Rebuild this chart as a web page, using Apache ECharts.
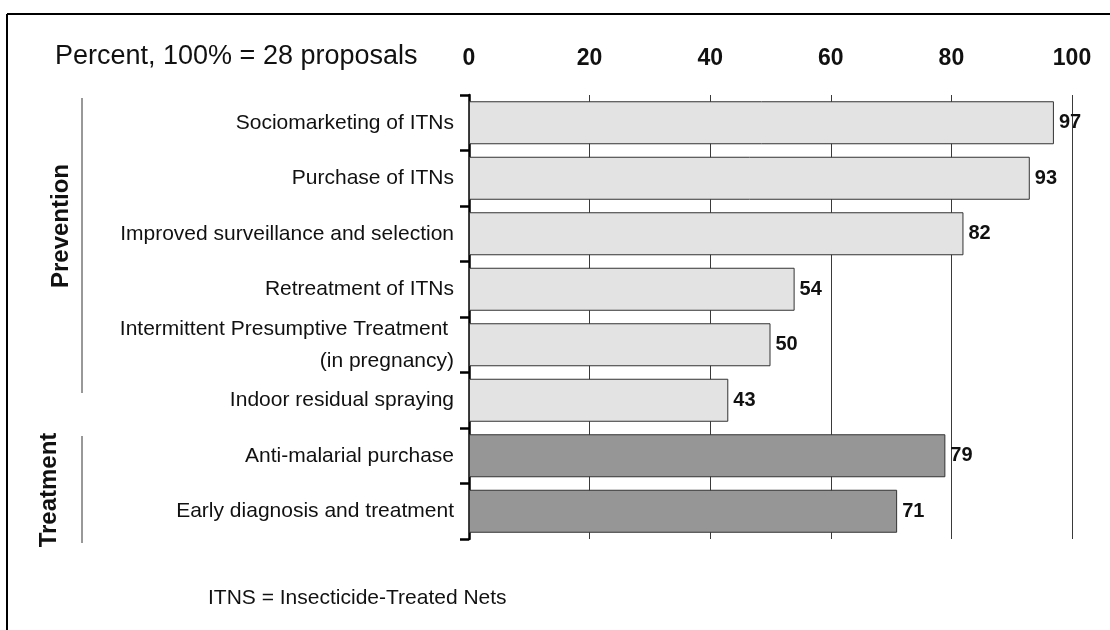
<!DOCTYPE html>
<html>
<head>
<meta charset="utf-8">
<script src="https://cdn.jsdelivr.net/npm/echarts@6/dist/echarts.min.js"></script>
<style>
  html, body { margin: 0; padding: 0; background: #ffffff; }
  #chart { width: 1110px; height: 630px; }
</style>
</head>
<body>
<div id="chart"></div>
<script>
const categories = [
  'Sociomarketing of ITNs',
  'Purchase of ITNs',
  'Improved surveillance and selection',
  'Retreatment of ITNs',
  'Intermittent Presumptive Treatment \n(in pregnancy)',
  'Indoor residual spraying',
  'Anti-malarial purchase',
  'Early diagnosis and treatment'
];
const values = [97, 93, 82, 54, 50, 43, 79, 71];
const groups = ['Prevention', 'Prevention', 'Prevention', 'Prevention', 'Prevention', 'Prevention', 'Treatment', 'Treatment'];
const xTicks = [0, 20, 40, 60, 80, 100];
const titleText = 'Percent, 100% = 28 proposals';
const footnoteText = 'ITNS = Insecticide-Treated Nets';

const groupColors = { Prevention: '#e3e3e3', Treatment: '#969696' };
const FONT = '"Liberation Sans", Arial, Helvetica, sans-serif';

const chart = echarts.init(document.getElementById('chart'), null, { renderer: 'canvas' });

const option = {
  backgroundColor: '#ffffff',
  animation: false,
  textStyle: { fontFamily: FONT },
  grid: { left: 469, right: 38, top: 95, bottom: 91, containLabel: false },
  xAxis: {
    type: 'value',
    position: 'top',
    min: xTicks[0],
    max: xTicks[xTicks.length - 1],
    interval: xTicks[1] - xTicks[0],
    axisLine: { show: false },
    axisTick: { show: false },
    splitLine: { show: true, lineStyle: { color: '#3a3a3a', width: 1 } },
    axisLabel: {
      margin: 25,
      fontFamily: FONT,
      fontSize: 23,
      fontWeight: 'bold',
      color: '#111111'
    }
  },
  yAxis: {
    type: 'category',
    inverse: true,
    data: categories,
    axisLine: { show: true, lineStyle: { color: '#000000', width: 2.5 } },
    axisTick: { show: true, length: 9, lineStyle: { color: '#000000', width: 2.5 } },
    splitLine: { show: false },
    axisLabel: {
      margin: 15,
      fontFamily: FONT,
      fontSize: 21,
      lineHeight: 32,
      color: '#111111',
      align: 'right'
    }
  },
  series: [{
    type: 'bar',
    barWidth: 43,
    data: values.map((v, i) => ({
      value: v,
      itemStyle: {
        color: groupColors[groups[i]],
        borderColor: '#333333',
        borderWidth: 1
      }
    })),
    label: {
      show: true,
      position: 'right',
      distance: 5,
      fontFamily: FONT,
      fontSize: 20,
      fontWeight: 'bold',
      color: '#111111'
    }
  }],
  graphic: [
    { type: 'line', shape: { x1: 7, y1: 14, x2: 1110, y2: 14 }, style: { stroke: '#000', lineWidth: 2 } },
    { type: 'line', shape: { x1: 7, y1: 14, x2: 7, y2: 630 }, style: { stroke: '#000', lineWidth: 2 } },
    {
      type: 'text', x: 55, y: 57,
      style: { text: titleText, font: '27px ' + FONT, fill: '#111', textAlign: 'left', textVerticalAlign: 'middle' }
    },
    {
      type: 'text', x: 61, y: 226, rotation: Math.PI / 2,
      style: { text: 'Prevention', font: 'bold 24px ' + FONT, fill: '#111', textAlign: 'center', textVerticalAlign: 'middle' }
    },
    { type: 'line', shape: { x1: 82, y1: 98, x2: 82, y2: 393 }, style: { stroke: '#333', lineWidth: 1 } },
    {
      type: 'text', x: 49, y: 490, rotation: Math.PI / 2,
      style: { text: 'Treatment', font: 'bold 24px ' + FONT, fill: '#111', textAlign: 'center', textVerticalAlign: 'middle' }
    },
    { type: 'line', shape: { x1: 82, y1: 436, x2: 82, y2: 543 }, style: { stroke: '#333', lineWidth: 1 } },
    {
      type: 'text', x: 208, y: 598,
      style: { text: footnoteText, font: '21px ' + FONT, fill: '#111', textAlign: 'left', textVerticalAlign: 'middle' }
    }
  ]
};

chart.setOption(option);
</script>
</body>
</html>
